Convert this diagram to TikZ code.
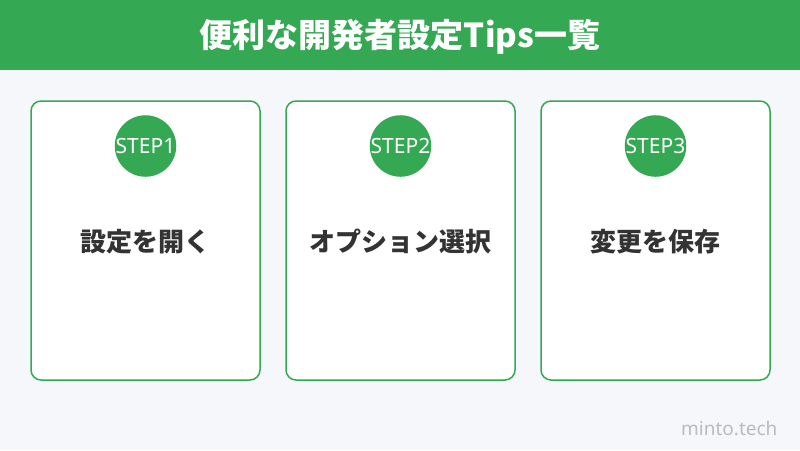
\documentclass[tikz,border=0pt]{standalone}
\usepackage{fontspec}
\setmainfont{Noto Sans}
\newfontfamily\jpfont{Noto Sans CJK JP}
\usepackage{tikz}
\definecolor{mintogreen}{HTML}{34A853}
\definecolor{pagebg}{HTML}{F5F7FA}
\definecolor{labeltext}{HTML}{333333}
\definecolor{marktext}{HTML}{BBBBBB}
\tikzset{
  card/.style={draw=mintogreen, line width=1.5pt, fill=white, rounded corners=10pt,
    minimum width=229pt, minimum height=279pt},
  stepdot/.style={circle, fill=mintogreen, minimum size=49pt, inner sep=0pt,
    text=white, font=\fontsize{21}{21}\selectfont},
  cardlabel/.style={text=labeltext, font=\jpfont\bfseries\fontsize{26}{26}\selectfont}
}

\begin{document}
\begin{tikzpicture}[x=1pt, y=-1pt]  % 1pt = 1px, y 轴朝下
  \fill[pagebg] (0, 0) rectangle (800, 450);
  \fill[mintogreen] (0, 0) rectangle (800, 70);
  \node[text=white, font=\jpfont\bfseries\fontsize{33}{33}\selectfont] (title) at (400, 37) {便利な開発者設定Tips一覧};
  % 三张卡片
  \node[card] (card1) at (145.5, 240.5) {};
  \node[card] (card2) at (400.5, 240.5) {};
  \node[card] (card3) at (655.5, 240.5) {};
  % 步骤圆点
  \node[stepdot] (step1) at (145.5, 146) {STEP1};
  \node[stepdot] (step2) at (400.5, 146) {STEP2};
  \node[stepdot] (step3) at (655.5, 146) {STEP3};
  \node[cardlabel] (label1) at (145.5, 242) {設定を開く};
  \node[cardlabel] (label2) at (400.5, 242) {オプション選択};
  \node[cardlabel] (label3) at (655.5, 242) {変更を保存};
  % 水印
  \node[text=marktext, font=\fontsize{19}{19}\selectfont, anchor=east] (mark) at (781, 428) {minto.tech};
\end{tikzpicture}
\end{document}
